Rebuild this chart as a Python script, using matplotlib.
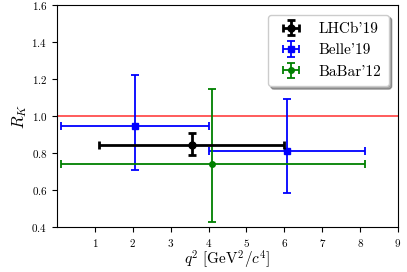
import numpy as np
import matplotlib
matplotlib.use("Agg")
import matplotlib.pyplot as plt

plt.rcParams['font.family'] = 'serif'
plt.rcParams['font.serif'] = ['cmr10']
plt.rcParams['mathtext.fontset'] = 'cm'
plt.rcParams['axes.formatter.use_mathtext'] = True

# LHCb'19
lhcb_x = [3.55]
lhcb_xerr = [2.45]
lhcb_y = [0.846]
lhcb_yerr = [[0.056], [0.062]]

# Belle'19
belle_x = [2.05, 6.06]
belle_xerr = [[1.95, 2.06], [1.95, 2.06]]
belle_y = [0.95, 0.81]
belle_yerr = [[0.24, 0.228], [0.275, 0.285]]

# BaBar'12
babar_x = [4.1]
babar_xerr = [[4.0], [4.02]]
babar_y = [0.74]
babar_yerr = [[0.31], [0.405]]

fig, ax = plt.subplots(figsize=(4.07, 2.72), dpi=100)

ax.axhline(1.0, color='#ff4040', lw=1.2)

ax.errorbar(lhcb_x, lhcb_y, xerr=lhcb_xerr, yerr=lhcb_yerr, fmt='o', color='black',
            ms=5, lw=2, capsize=3, capthick=2, label="LHCb'19", zorder=4)
ax.errorbar(belle_x, belle_y, xerr=belle_xerr, yerr=belle_yerr, fmt='s', color='blue',
            ms=5, lw=1.3, capsize=3, capthick=1.3, label="Belle'19", zorder=3)
ax.errorbar(babar_x, babar_y, xerr=babar_xerr, yerr=babar_yerr, fmt='o', color='green',
            ms=4, lw=1.3, capsize=3, capthick=1.3, label="BaBar'12", zorder=3)

ax.set_xlim(0, 9)
ax.set_ylim(0.4, 1.6)
ax.set_xticks(np.arange(1, 10))
ax.set_yticks(np.arange(0.4, 1.61, 0.2))
ax.tick_params(labelsize=8)
ax.set_xlabel(r'$q^2\ [\mathrm{GeV}^2/c^4]$', fontsize=11, labelpad=0)
ax.set_ylabel(r'$R_K$', fontsize=12, labelpad=2)

ax.legend(loc='upper right', fontsize=11, shadow=True, fancybox=True,
          borderaxespad=0.6, handlelength=2.0, borderpad=0.5, labelspacing=0.5)

fig.subplots_adjust(left=0.14, right=0.978, top=0.98, bottom=0.165)
fig.savefig('out.png', dpi=100)
